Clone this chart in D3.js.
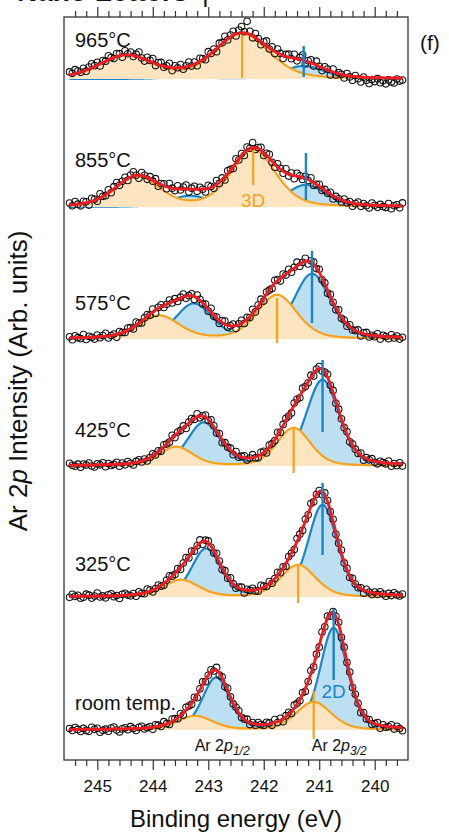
<!DOCTYPE html>
<html>
<head>
<meta charset="utf-8">
<style>
body { margin: 0; background: #fff; }
svg { display: block; font-family: "Liberation Sans", Arial, sans-serif; }
.axis path { display: none; }
.axis line { stroke: #333; stroke-width: 1.2; }
.axis text { font-size: 17px; fill: #111; font-family: "Liberation Sans", Arial, sans-serif; }
</style>
</head>
<body>
<svg width="449" height="835"></svg>
<script src="https://cdn.jsdelivr.net/npm/d3@7"></script>
<script>
// spectra from bottom to top
var temps = ["room temp.", "325°C", "425°C", "575°C", "855°C", "965°C"];
var offsets = [30, 163, 294, 421, 553, 681];

// 2D component (blue): Ar 2p3/2 + 2p1/2 peaks, eV / height / fwhm
var pos2D32 = [240.74, 240.94, 240.94, 241.13, 241.24, 241.28];
var pos2D12 = [242.86, 243.04, 243.08, 243.26, 243.33, 243.40];
var h2D32 = [102, 92, 86, 65, 22, 13];
var h2D12 = [52, 48, 43, 35, 11, 2];
var w2D = [0.58, 0.62, 0.70, 0.78, 0.85, 0.90];

// 3D component (orange)
var pos3D32 = [241.10, 241.38, 241.46, 241.76, 242.19, 242.39];
var pos3D12 = [243.24, 243.49, 243.58, 243.88, 244.28, 244.48];
var h3D32 = [28, 32, 38, 44, 57, 45];
var h3D12 = [14, 17, 19, 23, 30, 23];
var w3D = [0.75, 0.75, 0.72, 0.85, 0.95, 1.15];

// measured points: residual from the fit, one per 0.05 eV from 245.5 eV
var resid = [
 [1,-1,2,0,-2,1,-1,-2,2,0,1,-3,-1,0,-2,1,2,-1,-3,0,
  1,-1,2,0,-2,1,2,-1,0,1,-2,2,1,-1,3,0,-2,2,1,-1,
  2,-2,3,1,-1,2,-3,1,3,-2,0,2,-1,3,-2,1,-3,2,0,-1,
  1,2,-1,0,2,-2,1,-1,2,0,-1,2,1,-2,3,-1,2,-3,1,2,
  -2,3,1,-1,2,-3,0,3,-2,1,-2,3,-1,2,-3,1,0,2,-2,1,
  -1,2,-2,1,0,-3,2,-1,1,-2,0,2,-3,1,-1,0,2,-2,1,-1,-3],
 [-1,2,0,1,-2,-1,2,1,-2,0,3,-1,0,-2,1,2,-1,0,-3,1,
  2,0,-1,1,-2,2,0,-1,3,1,-2,0,2,-1,-2,1,3,0,-1,2,
  -2,1,3,-1,2,-2,0,3,-3,1,2,-1,-2,3,1,-2,2,-1,3,0,
  -2,1,2,-3,1,0,2,-1,-2,3,1,-1,2,-2,0,3,-1,1,-3,2,
  0,-2,3,1,-2,2,-1,3,-2,0,1,-3,2,1,-1,2,-2,0,3,-1,
  1,-2,2,0,-1,1,-3,2,0,-2,1,-1,2,0,-2,1,-1,2,0,-1,1],
 [2,0,-1,1,-2,1,0,2,-1,-2,1,0,2,-2,1,-1,0,2,-2,1,
  -1,2,0,-2,1,2,-1,1,-2,0,2,-1,1,-2,2,0,-1,3,-2,1,
  0,2,-3,1,2,-1,3,-2,0,2,-1,3,1,-2,2,-3,1,0,2,-2,
  3,-1,1,2,-2,0,3,-1,-2,2,1,-3,2,0,-1,3,-2,1,2,-1,
  -3,2,1,-2,3,0,-1,2,-3,1,2,-2,0,3,-1,2,-2,1,0,-1,
  2,-2,1,0,-1,2,-3,1,0,2,-1,-2,1,0,-1,2,-3,0,-2,1,-2],
 [1,-2,2,0,-1,3,-2,1,0,-2,2,-1,1,3,-2,0,1,-3,2,0,
  -1,2,1,-2,3,0,-2,1,2,-1,3,-3,1,2,-2,0,3,-1,2,-2,
  1,3,-2,0,2,-3,3,1,-1,2,-2,4,-1,1,-3,2,3,-2,0,2,
  -3,1,3,-2,2,-1,4,-2,1,3,-3,2,0,-2,3,1,-3,2,-1,3,
  -2,1,4,-2,0,3,-3,1,2,-1,3,-2,1,-3,2,0,-2,3,-1,1,
  -2,2,-1,0,2,-3,1,2,-2,0,-1,2,-3,1,0,-2,2,-1,1,-2,0],
 [2,-1,3,0,-2,2,1,-3,3,1,-2,4,0,-1,3,-2,2,4,-1,1,
  3,-2,2,4,0,-3,3,1,-2,2,-1,3,-3,1,2,-2,4,0,-2,3,
  -1,2,4,-3,1,3,-2,2,0,-3,3,1,-2,4,-1,2,-3,3,1,-2,
  4,-1,2,-3,3,0,5,-2,1,3,-3,2,4,-1,-3,3,1,-2,4,-2,
  2,-3,3,1,-2,2,-1,3,-3,0,2,-2,1,-1,2,-3,1,0,-2,2,
  -1,1,-3,0,2,-2,1,-1,-3,2,0,-2,1,-1,-2,2,-3,0,1,-2,3],
 [3,1,4,2,0,3,-1,2,4,1,3,-2,2,0,4,1,-1,3,2,-2,
  4,1,3,-1,2,5,0,-2,3,1,4,-2,2,3,-1,1,4,-3,2,0,
  3,-2,1,4,-1,2,-3,3,1,-2,4,0,2,-3,3,1,5,-1,2,4,
  -2,3,6,1,12,3,-2,4,1,-3,2,5,-1,3,-2,4,1,-3,2,3,
  -1,4,-2,2,5,-3,1,3,-2,4,0,-3,2,1,-4,3,-2,1,0,-3,
  2,-1,-4,1,-2,-5,0,-3,-6,-2,-4,-1,-5,-3,-6,-2,-4,-5,-1,-3,-2]
];

var majorTicks = [245, 244, 243, 242, 241, 240];

// layout (y-units above each spectrum's baseline)
var mark2D = [[121, 50], [114, 42], [106, 34], [88, 16], [54, 7], [33, 2]];
var mark3D = [[39, -9], [32, -6], [38, -7], [41, -4], [57, 22], [44, 1]];
var labelDy = [20, 26, 29, 29, 40, 32];

var cBlue = "#1a86c7", cBlueFill = "#bcdff2";
var cOrange = "#f7a21b", cOrangeFill = "#fde5c2";
var cRed = "#ee1d23";

var svg = d3.select("svg");
var pLeft = 64, pRight = 408, pTop = 17, pBottom = 760;

var x = d3.scaleLinear().domain([245.6, 239.4]).range([pLeft, pRight]);
var y = d3.scaleLinear().domain([0, 743]).range([pBottom, pTop]);

// pseudo-Voigt peak
function pv(e, c, h, w) {
  var t = 4 * (e - c) * (e - c) / (w * w);
  return h * (0.68 * Math.exp(-Math.LN2 * t) + 0.32 / (1 + t));
}

var fine = d3.range(245.5, 239.49, -0.02);

temps.forEach(function(label, i) {
  var base = offsets[i];
  var blue = function(e) { return pv(e, pos2D32[i], h2D32[i], w2D[i]) + pv(e, pos2D12[i], h2D12[i], w2D[i]); };
  var orange = function(e) { return pv(e, pos3D32[i], h3D32[i], w3D[i]) + pv(e, pos3D12[i], h3D12[i], w3D[i]); };
  var total = function(e) { return blue(e) + orange(e); };

  var g = svg.append("g").attr("class", "spectrum");

  var area = function(f) {
    return d3.area().x(function(e) { return x(e); }).y0(y(base)).y1(function(e) { return y(base + f(e)); });
  };
  var line = function(f) {
    return d3.line().x(function(e) { return x(e); }).y(function(e) { return y(base + f(e)); });
  };

  g.append("path").attr("d", area(blue)(fine)).attr("fill", cBlueFill);
  g.append("path").attr("d", line(blue)(fine)).attr("fill", "none").attr("stroke", cBlue).attr("stroke-width", 2.2);
  g.append("path").attr("d", area(orange)(fine)).attr("fill", cOrangeFill);
  g.append("path").attr("d", line(orange)(fine)).attr("fill", "none").attr("stroke", cOrange).attr("stroke-width", 2.2);

  var pts = resid[i].map(function(r, k) {
    var e = 245.5 - 0.05 * k;
    return { e: e, v: base + total(e) + r };
  });
  g.selectAll("circle").data(pts).enter().append("circle")
    .attr("cx", function(d) { return x(d.e); })
    .attr("cy", function(d) { return y(d.v); })
    .attr("r", 3.3)
    .attr("fill", "none")
    .attr("stroke", "#111")
    .attr("stroke-width", 1.05);

  g.append("path").attr("d", line(total)(fine)).attr("fill", "none").attr("stroke", cRed).attr("stroke-width", 2.9);

  g.append("line")
    .attr("x1", x(pos2D32[i])).attr("x2", x(pos2D32[i]))
    .attr("y1", y(base + mark2D[i][0])).attr("y2", y(base + mark2D[i][1]))
    .attr("stroke", cBlue).attr("stroke-width", 2.4);
  g.append("line")
    .attr("x1", x(pos3D32[i])).attr("x2", x(pos3D32[i]))
    .attr("y1", y(base + mark3D[i][0])).attr("y2", y(base + mark3D[i][1]))
    .attr("stroke", cOrange).attr("stroke-width", 2.2);

  svg.append("text").attr("x", 75).attr("y", y(base + labelDy[i]))
    .attr("font-size", 20).attr("fill", "#111").text(label);
});

// component labels
svg.append("text").attr("x", x(pos3D32[4])).attr("y", y(offsets[4])).attr("text-anchor", "middle")
  .attr("font-size", 19).attr("fill", cOrange).text("3D");
svg.append("text").attr("x", x(pos2D32[0])).attr("y", y(offsets[0] + 32)).attr("text-anchor", "middle")
  .attr("font-size", 19).attr("fill", cBlue).text("2D");

function arLabel(cx, sub) {
  var t = svg.append("text").attr("x", cx).attr("y", 751).attr("text-anchor", "middle")
    .attr("font-size", 16).attr("fill", "#111");
  t.append("tspan").text("Ar 2");
  t.append("tspan").attr("font-style", "italic").text("p");
  t.append("tspan").attr("font-style", "italic").attr("font-size", 12).attr("dy", 4).text(sub);
}
arLabel(x(242.75), "1/2");
arLabel(x(240.64), "3/2");

// frame and axes
svg.append("rect").attr("x", pLeft).attr("y", pTop).attr("width", pRight - pLeft).attr("height", pBottom - pTop)
  .attr("fill", "none").attr("stroke", "#333").attr("stroke-width", 1.3);

var minorTicks = d3.range(0, 30).map(function(k) { return +(245.4 - 0.2 * k).toFixed(1); })
  .filter(function(v) { return Math.abs(v - Math.round(v)) > 1e-6; });

svg.append("g").attr("class", "axis").attr("transform", "translate(0," + pBottom + ")")
  .call(d3.axisBottom(x).tickValues(majorTicks).tickSize(10).tickPadding(10).tickFormat(d3.format("d")));
svg.append("g").attr("class", "axis").attr("transform", "translate(0," + pBottom + ")")
  .call(d3.axisBottom(x).tickValues(minorTicks).tickSize(6).tickFormat(""));
svg.append("g").attr("class", "axis").attr("transform", "translate(0," + pTop + ")")
  .call(d3.axisTop(x).tickValues(majorTicks).tickSize(10).tickFormat(""));
svg.append("g").attr("class", "axis").attr("transform", "translate(0," + pTop + ")")
  .call(d3.axisTop(x).tickValues(minorTicks).tickSize(6).tickFormat(""));

svg.append("text").attr("x", (pLeft + pRight) / 2).attr("y", 827).attr("text-anchor", "middle")
  .attr("font-size", 24).attr("fill", "#111").text("Binding energy (eV)");

var yl = svg.append("text").attr("transform", "translate(27,381) rotate(-90)").attr("text-anchor", "middle")
  .attr("font-size", 26).attr("fill", "#111");
yl.append("tspan").text("Ar 2");
yl.append("tspan").attr("font-style", "italic").text("p");
yl.append("tspan").text(" Intensity (Arb. units)");

svg.append("text").attr("x", 420).attr("y", 50).attr("font-size", 21).attr("fill", "#111").text("(f)");

// journal header, cut off at the top edge
svg.append("text").attr("x", 17).attr("y", 1).attr("font-size", 28).attr("font-weight", "bold")
  .attr("fill", "#111").text("Nano Letters");
svg.append("text").attr("x", 202).attr("y", 2).attr("font-size", 26).attr("fill", "#111").text("|");
</script>
</body>
</html>
